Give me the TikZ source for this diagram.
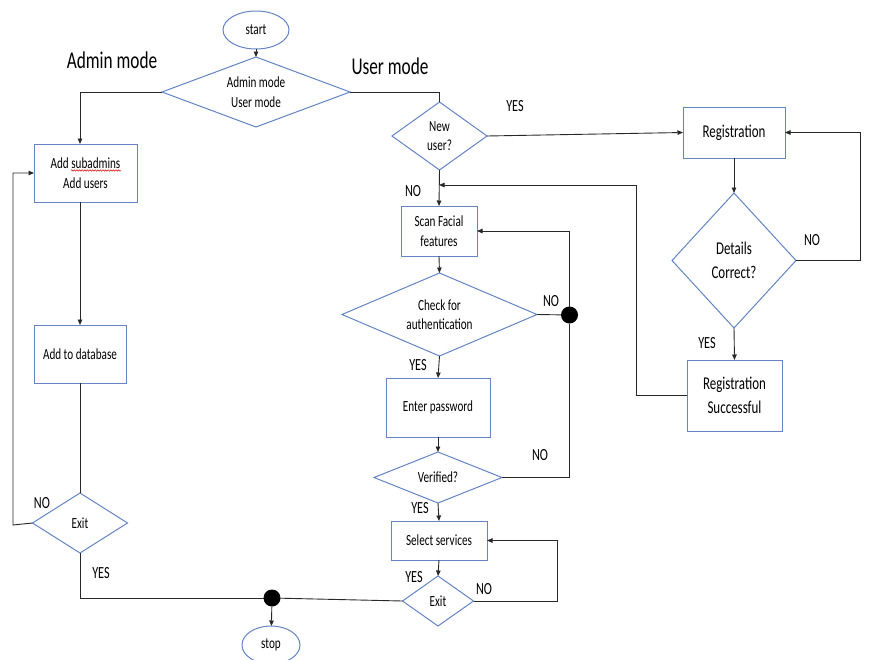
\documentclass[tikz,border=0pt]{standalone}
\usepackage{fontspec}
\setmainfont[FakeStretch=0.72]{Carlito}
\usetikzlibrary{arrows.meta,shapes.geometric,decorations.pathmorphing}
\definecolor{shapeblue}{RGB}{100,132,198}
\definecolor{wire}{RGB}{40,40,40}

\begin{document}
\begin{tikzpicture}[x=1pt,y=-1pt,
  every node/.style={inner sep=0pt, outer sep=0pt, font=\fontsize{15.5}{19.5}\selectfont},
  procbox/.style={draw=shapeblue, line width=1pt, rectangle, align=center},
  bigtext/.style={font=\fontsize{18}{24}\selectfont},
  decision/.style={draw=shapeblue, line width=1pt, diamond, align=center},
  terminal/.style={draw=shapeblue, line width=1pt, ellipse, minimum width=66pt, minimum height=38pt},
  junction/.style={circle, fill=black, minimum size=17pt},
  heading/.style={font=\fontsize{24}{28}\selectfont},
  answer/.style={font=\fontsize{17}{20}\selectfont},
  link/.style={draw=wire, line width=0.9pt},
  flow/.style={link, -{Triangle[length=5.5pt,width=4.5pt]}}
]
\useasboundingbox (0,0) rectangle (878,659);
\fill[white] (0,0) rectangle (878,659);

% ---- top: start and mode choice
\node[terminal] (start) at (256,30) {start};
\node[decision, minimum width=188pt, minimum height=70pt, shape aspect=2.69] (mode) at (256,92) {Admin mode\\User mode};
\node[heading] at (112,60) {Admin mode};
\node[heading] at (390,66) {User mode};

% ---- admin column
\coordinate (lcol) at (80,0);
\node[procbox, minimum width=103pt, minimum height=58pt] (addsub) at (85.5,173) {Add subadmins\\Add users};
\node[procbox, minimum width=92pt, minimum height=58pt] (adddb) at (80,354) {Add to database};
\node[decision, minimum width=95pt, minimum height=60pt, shape aspect=1.58] (exitL) at (80,523) {Exit};

% ---- user column
\node[decision, minimum width=95pt, minimum height=68pt, shape aspect=1.4] (newuser) at (439.5,136) {New\\user?};
\node[procbox, minimum width=76pt, minimum height=50pt] (scan) at (439,231) {Scan Facial\\features};
\node[decision, minimum width=195pt, minimum height=83pt, shape aspect=2.35] (check) at (439.5,314.5) {Check for\\authentication};
\node[procbox, minimum width=104pt, minimum height=59pt] (passwd) at (438,407.5) {Enter password};
\node[decision, minimum width=128pt, minimum height=51pt, shape aspect=2.5] (verified) at (438,477.5) {Verified?};
\node[procbox, minimum width=96pt, minimum height=39pt] (select) at (439,540.5) {Select services};
\node[decision, minimum width=71pt, minimum height=50pt, shape aspect=1.42] (exitR) at (438,601) {Exit};

% ---- registration column
\node[procbox, bigtext, minimum width=102pt, minimum height=51pt] (reg) at (734,132.5) {Registration};
\node[decision, bigtext, minimum width=124pt, minimum height=135pt, shape aspect=0.92] (details) at (734,260.5) {Details\\Correct?};
\node[procbox, bigtext, minimum width=95pt, minimum height=71pt] (regok) at (734.5,395.5) {Registration\\Successful};

% ---- junctions and end
\node[junction] (jauth) at (569.5,315) {};
\node[junction] (jend) at (272,598) {};
\node[terminal, minimum width=58pt] (stop) at (271,645) {stop};

% spelling mark under "subadmins"
\draw[red!85!black, line width=0.5pt, decorate, decoration={snake, amplitude=0.7pt, segment length=2.6pt}] (71,170.5) -- (121,170.5);

% ---- connectors
\draw[flow] (start) -- (mode);
\draw[flow] (mode.west) -| (lcol |- addsub.north);
\draw[flow] (lcol |- addsub.south) -- (adddb.north);
\draw[link] (adddb.south) -- (exitL.north);
\draw[flow] (exitL.west) -- (13,525) |- (addsub.west);
\draw[link] (exitL.south) |- (jend);
\draw[link] (exitR.west) -- (jend);
\draw[flow] (jend) -- (stop);

\draw[link] (mode.east) -| (newuser.north);
\draw[flow] (newuser.east) -- (reg.west);
\draw[flow] (newuser.south) -- (scan.north);
\draw[flow] (scan.south) -- (check.north);
\draw[flow] (check.south) -- (passwd.north);
\draw[flow] (passwd.south) -- (verified.north);
\draw[flow] (verified.south) -- (select.north);
\draw[flow] (select.south) -- (exitR.north);

\draw[link] (check.east) -- (jauth);
\draw[flow] (jauth) |- (scan.east);
\draw[link] (verified.east) -| (jauth);
\draw[flow] (exitR.east) -- (557,601) |- (select.east);

\draw[flow] (reg.south) -- (details.north);
\draw[flow] (details.south) -- (regok.north);
\draw[flow] (details.east) -- (860,260.5) |- (reg.east);
\coordinate (backin) at (439,185);
\draw[flow] (regok.west) -| (636,185) -- (backin);

% ---- branch labels
\node[answer] at (515,106) {YES};
\node[answer] at (413,191) {NO};
\node[answer] at (812,240) {NO};
\node[answer] at (707,343) {YES};
\node[answer] at (551,301) {NO};
\node[answer] at (418,365) {YES};
\node[answer] at (540,455) {NO};
\node[answer] at (420,508) {YES};
\node[answer] at (414,577) {YES};
\node[answer] at (484,589) {NO};
\node[answer] at (42,503) {NO};
\node[answer] at (101,573) {YES};
\end{tikzpicture}
\end{document}
